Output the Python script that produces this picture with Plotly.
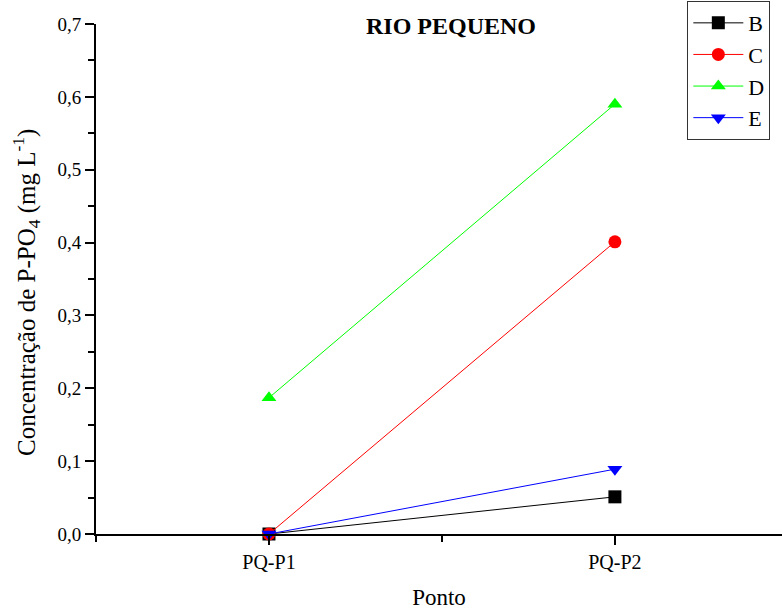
import plotly.graph_objects as go

# Sampling points and phosphate concentration (mg/L) per campaign
pontos = ["PQ-P1", "PQ-P2"]
x_pos = [1, 2]
serie_b = [0.0, 0.051]
serie_c = [0.0, 0.401]
serie_d = [0.187, 0.590]
serie_e = [0.0, 0.089]

series = [
    ("B", serie_b, "black", "square"),
    ("C", serie_c, "red", "circle"),
    ("D", serie_d, "#00ff00", "triangle-up"),
    ("E", serie_e, "blue", "triangle-down"),
]

fig = go.Figure()
for nome, vals, cor, simb in series:
    fig.add_trace(go.Scatter(
        x=x_pos, y=vals, name=nome, mode="lines+markers",
        line=dict(color=cor, width=1),
        marker=dict(symbol=simb, size=13, color=cor),
        cliponaxis=False,
    ))

font = "Liberation Serif"
fig.update_layout(
    width=782, height=610,
    margin=dict(l=96, r=0, t=24, b=76),
    paper_bgcolor="white", plot_bgcolor="white",
    separators=",.",
    font=dict(family=font, color="black", size=20),
    showlegend=True,
    legend=dict(
        x=0.862, y=1.045, xanchor="left", yanchor="top",
        bordercolor="#333333", borderwidth=1,
        font=dict(size=22, family=font),
        itemwidth=50, tracegroupgap=0,
    ),
    annotations=[
        dict(
            text="<b>RIO PEQUENO</b>", x=0.517, y=0.997,
            xref="paper", yref="paper", xanchor="center", yanchor="middle",
            showarrow=False, font=dict(size=24, family=font),
        ),
        # y-axis title drawn as a rotated annotation for finer placement
        dict(
            text="Concentração de P-PO<sub>4</sub> (mg L<sup>-1</sup>)",
            x=-0.101, y=0.474, xref="paper", yref="paper",
            xanchor="center", yanchor="middle", textangle=-90,
            showarrow=False, font=dict(size=25, family=font),
        ),
    ],
)

fig.update_xaxes(
    range=[0.5, 2.483], tickvals=x_pos, ticktext=pontos,
    showgrid=False, zeroline=False,
    showline=True, linecolor="black", linewidth=2,
    ticks="outside", ticklen=9, tickwidth=2, tickcolor="black",
    minor=dict(tick0=0.5, dtick=1, ticks="outside", ticklen=6, tickwidth=2,
               tickcolor="black", showgrid=False),
    title=dict(text="Ponto", font=dict(size=23), standoff=20),
    tickfont=dict(size=20),
)
fig.update_yaxes(
    range=[0, 0.7], dtick=0.1, tickformat=".1f",
    showgrid=False, zeroline=False,
    showline=True, linecolor="black", linewidth=2,
    ticks="outside", ticklen=9, tickwidth=2, tickcolor="black",
    minor=dict(dtick=0.05, ticks="outside", ticklen=6, tickwidth=2,
               tickcolor="black", showgrid=False),
    tickfont=dict(size=19),
)

fig.write_html("out.html")
